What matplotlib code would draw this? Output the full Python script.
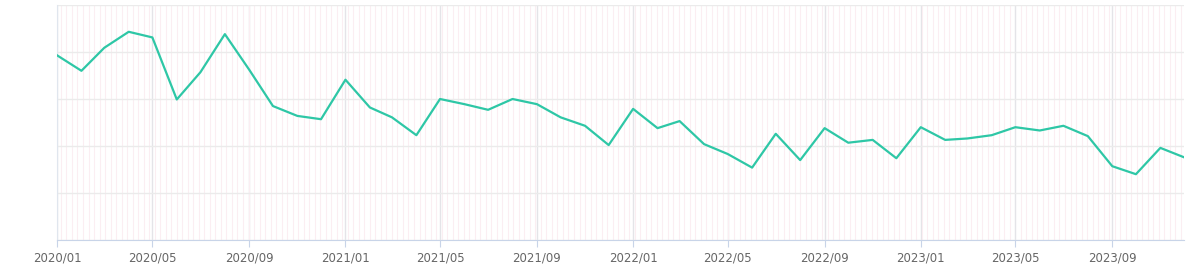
import numpy as np
import pandas as pd
import matplotlib
matplotlib.use('Agg')
import matplotlib.pyplot as plt
import matplotlib.dates as mdates

months = pd.date_range('2020-01-01', '2023-12-01', freq='MS')
values = [3.93, 3.60, 4.09, 4.43, 4.31, 2.99, 3.57, 4.38, 3.62, 2.85, 2.64, 2.57,
          3.41, 2.82, 2.61, 2.23, 3.00, 2.89, 2.77, 3.00, 2.89, 2.61, 2.43, 2.02,
          2.79, 2.38, 2.53, 2.04, 1.83, 1.54, 2.26, 1.70, 2.38, 2.07, 2.13, 1.74,
          2.40, 2.13, 2.16, 2.23, 2.40, 2.33, 2.43, 2.21, 1.57, 1.40, 1.96, 1.76]

fig = plt.figure(figsize=(12, 2.71), dpi=100)
ax = fig.add_axes([57/1200, 31/271, (1184-57)/1200, 235/271])

ax.plot(months, values, color='#2ec7a6', linewidth=1.6, zorder=3)

ax.set_xlim(months[0], months[-1])
ax.set_ylim(0, 5)

ax.xaxis.set_major_locator(mdates.MonthLocator(bymonth=[1, 5, 9]))
ax.xaxis.set_major_formatter(mdates.DateFormatter('%Y/%m'))
ax.xaxis.set_minor_locator(mdates.WeekdayLocator(byweekday=mdates.MO))
ax.grid(which='minor', axis='x', color='#fbeef2', linewidth=0.8)
ax.grid(which='major', axis='x', color='#e4e4e8', linewidth=1)
ax.grid(which='major', axis='y', color='#ebebeb', linewidth=1)
ax.set_axisbelow(True)

ax.set_yticks([0, 1, 2, 3, 4, 5])
ax.tick_params(axis='y', left=False, labelleft=False)
ax.tick_params(axis='x', which='major', length=5, color='#c8d4e8', labelsize=8.5,
               labelcolor='#666666', pad=3)
ax.tick_params(axis='x', which='minor', length=0)

for s in ['top', 'right']:
    ax.spines[s].set_visible(False)
ax.spines['left'].set_color('#e0e6ee')
ax.spines['bottom'].set_color('#c8d4e8')

fig.savefig('out.png', dpi=100)
